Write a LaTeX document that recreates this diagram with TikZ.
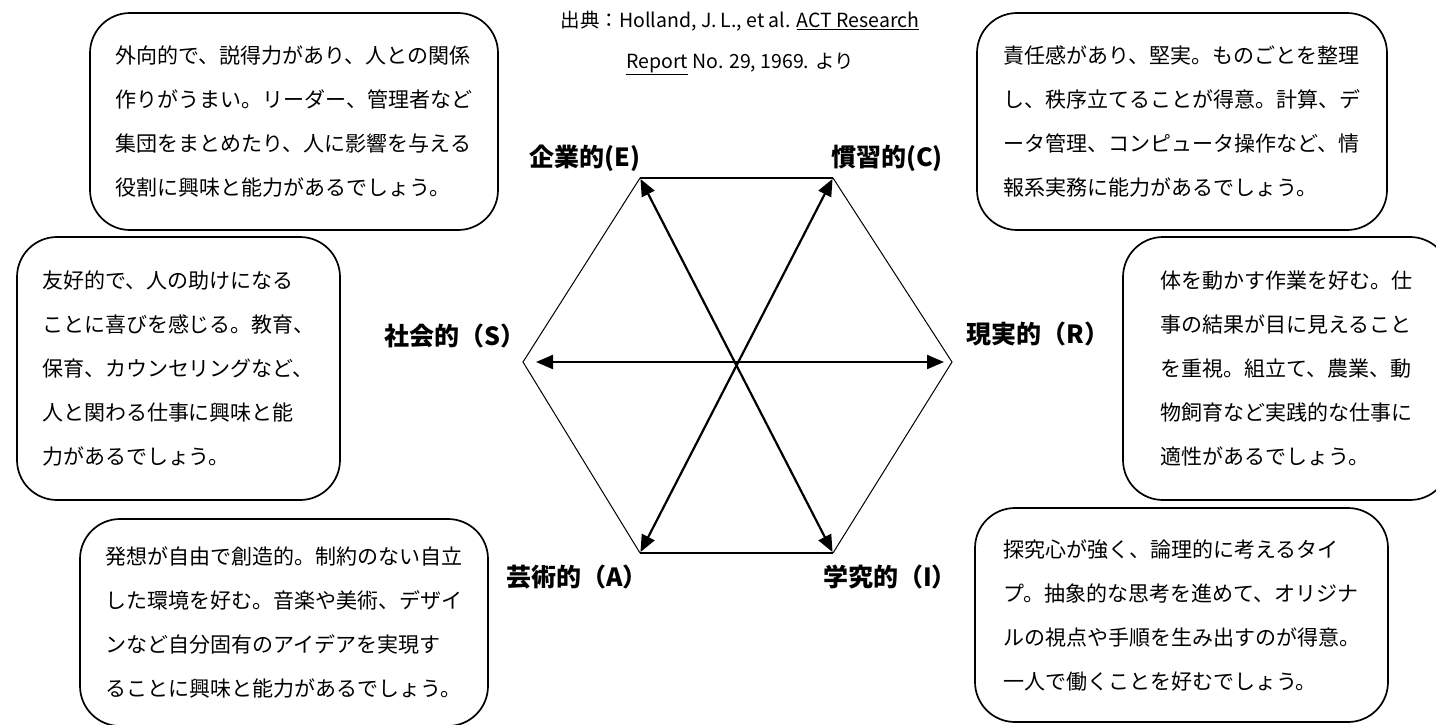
\documentclass[tikz,border=0pt]{standalone}
\usepackage{fontspec}
\setmainfont{Noto Sans CJK JP}
\usetikzlibrary{arrows.meta}
\tikzset{
  infobox/.style={draw, line width=1.7pt, rounded corners=40pt, align=left, inner sep=0pt,
    font=\fontsize{21}{44}\selectfont},
  lab/.style={font=\fontsize{25}{30}\selectfont\bfseries, inner sep=0pt},
  hexthin/.style={line width=1pt},
  hexthick/.style={line width=2pt},
  biarrow/.style={line width=2.2pt, {Triangle[length=17pt,width=14pt]}-{Triangle[length=17pt,width=14pt]}},
}
\begin{document}
\begin{tikzpicture}[x=1pt,y=-1pt]
\useasboundingbox (0,0) rectangle (1436,724);
\clip (0,0) rectangle (1436,724);
\fill[white] (0,0) rectangle (1436,724);

% title
\node[align=center, font=\fontsize{19.5}{41}\selectfont, inner sep=0pt] (title) at (740,43)
  {出典：Holland, J. L., et al. \underline{ACT Research}\\ \underline{Report} No. 29, 1969. より};

% hexagon vertices
\coordinate (E) at (640,178);
\coordinate (C) at (833,178);
\coordinate (R) at (952,362);
\coordinate (I) at (833,553);
\coordinate (A) at (640,553);
\coordinate (S) at (523,362);

\draw[hexthin] (E) -- (S) -- (A);
\draw[hexthin] (C) -- (R) -- (I);
\draw[hexthick] (E) -- (C);
\draw[hexthick] (A) -- (I);

\draw[biarrow, shorten <=13pt, shorten >=8pt] (S) -- (R);
\draw[biarrow, shorten <=1pt, shorten >=1pt] (E) -- (I);
\draw[biarrow, shorten <=1pt, shorten >=1pt] (C) -- (A);

% labels
\node[lab] (lE) at (585,158) {企業的(E)};
\node[lab] (lC) at (887,158) {慣習的(C)};
\node[lab] (lS) at (455,336) {社会的（S）};
\node[lab] (lR) at (1038,334) {現実的（R）};
\node[lab] (lA) at (577,577) {芸術的（A）};
\node[lab] (lI) at (890,577) {学究的（I）};

% description boxes
\node[infobox, minimum width=408pt, minimum height=217pt] (bE) at (294,121.5)
  {外向的で、説得力があり、人との関係\\作りがうまい。リーダー、管理者など\\集団をまとめたり、人に影響を与える\\役割に興味と能力があるでしょう。};
\node[infobox, minimum width=410pt, minimum height=217pt] (bC) at (1182,121.5)
  {責任感があり、堅実。ものごとを整理\\し、秩序立てることが得意。計算、デ\\ータ管理、コンピュータ操作など、情\\報系実務に能力があるでしょう。};
\node[infobox, minimum width=323pt, minimum height=263pt] (bS) at (178.5,368.5)
  {友好的で、人の助けになる\\ことに喜びを感じる。教育、\\保育、カウンセリングなど、\\人と関わる仕事に興味と能\\力があるでしょう。};
\node[infobox, minimum width=327pt, minimum height=263pt] (bR) at (1286.5,368.5)
  {体を動かす作業を好む。仕\\事の結果が目に見えること\\を重視。組立て、農業、動\\物飼育など実践的な仕事に\\適性があるでしょう。};
\node[infobox, minimum width=408pt, minimum height=207pt] (bA) at (284,622.5)
  {発想が自由で創造的。制約のない自立\\した環境を好む。音楽や美術、デザイ\\ンなど自分固有のアイデアを実現す\\ることに興味と能力があるでしょう。};
\node[infobox, minimum width=413pt, minimum height=214pt] (bI) at (1181.5,615)
  {探究心が強く、論理的に考えるタイ\\プ。抽象的な思考を進めて、オリジナ\\ルの視点や手順を生み出すのが得意。\\一人で働くことを好むでしょう。};
\end{tikzpicture}
\end{document}
